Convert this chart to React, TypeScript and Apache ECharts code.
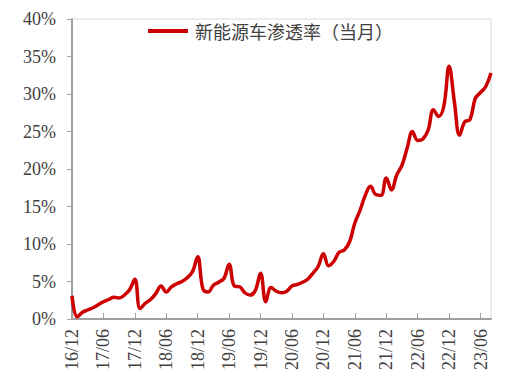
import React, { useEffect, useRef } from "react";
import * as echarts from "echarts";

const seriesName = "新能源车渗透率（当月）";

// months 16/12 .. 23/08
const months: string[] = (() => {
  const out: string[] = [];
  let y = 16;
  let m = 12;
  for (let i = 0; i < 81; i++) {
    out.push(`${y}/${m < 10 ? "0" + m : m}`);
    m++;
    if (m > 12) {
      m = 1;
      y++;
    }
  }
  return out;
})();

const penetration: number[] = [
  3.1, 0.3, 0.9, 1.2, 1.5, 1.9, 2.3, 2.6, 2.9, 2.8, 3.2, 3.9,
  5.3, 1.4, 2.1, 2.6, 3.4, 4.4, 3.6, 4.3, 4.7, 5.0, 5.5, 6.3,
  8.3, 4.0, 3.6, 4.5, 4.9, 5.4, 7.3, 4.4, 4.3, 3.5, 3.2, 3.8,
  6.1, 2.3, 4.2, 3.7, 3.5, 3.7, 4.4, 4.6, 4.9, 5.3, 6.1, 7.0,
  8.7, 7.1, 7.7, 8.9, 9.2, 10.3, 12.8, 14.5, 16.5, 17.7, 16.6, 16.5,
  18.8, 17.2, 19.2, 20.5, 22.8, 25.0, 23.8, 24.0, 25.2, 27.9, 27.0, 28.4,
  33.7, 29.0, 24.5, 26.3, 26.6, 29.4, 30.2, 31.0, 32.8,
];

const yTicks = [0, 5, 10, 15, 20, 25, 30, 35, 40];

const serif = "serif";

export default function App() {
  const ref = useRef<HTMLDivElement>(null);
  useEffect(() => {
    if (!ref.current) return;
    const chart = echarts.init(ref.current, undefined, { renderer: "svg" });
    chart.setOption({
      animation: false,
      textStyle: { fontFamily: serif },
      grid: {
        left: 72,
        right: 33,
        top: 19,
        bottom: 61,
        show: true,
        borderColor: "#d9d9d9",
        borderWidth: 1,
      },
      legend: {
        left: 143,
        top: 17,
        itemWidth: 40,
        itemHeight: 4,
        itemGap: 4,
        icon: "rect",
        textStyle: {
          fontFamily: "Noto Sans CJK SC",
          fontSize: 18,
          color: "#404040",
          padding: [0, 0, 0, 2],
        },
        data: [{ name: seriesName, icon: "rect" }],
      },
      xAxis: {
        type: "category",
        data: months,
        boundaryGap: false,
        axisLine: { lineStyle: { color: "#a0a0a0", width: 2 } },
        axisTick: {
          inside: true,
          length: 6,
          interval: 5,
          lineStyle: { color: "#a0a0a0", width: 1 },
        },
        axisLabel: {
          interval: 5,
          rotate: 90,
          margin: 10,
          fontFamily: serif,
          fontSize: 18,
          color: "#404040",
        },
        splitLine: { show: false },
      },
      yAxis: {
        type: "value",
        min: yTicks[0],
        max: yTicks[yTicks.length - 1],
        interval: 5,
        axisLine: { show: true, lineStyle: { color: "#a0a0a0", width: 2 } },
        axisTick: {
          show: true,
          length: 5,
          lineStyle: { color: "#a0a0a0", width: 1 },
        },
        axisLabel: {
          formatter: "{value}%",
          margin: 16,
          fontFamily: serif,
          fontSize: 18,
          color: "#404040",
        },
        splitLine: { show: false },
      },
      series: [
        {
          name: seriesName,
          type: "line",
          data: penetration,
          smooth: 0.4,
          symbol: "none",
          lineStyle: { color: "#cc0000", width: 3.5 },
          itemStyle: { color: "#cc0000" },
        },
      ],
    });
    return () => chart.dispose();
  }, []);
  return <div ref={ref} style={{ width: 524, height: 380, position: "absolute", left: 0, top: 0, background: "#fff" }} />;
}
